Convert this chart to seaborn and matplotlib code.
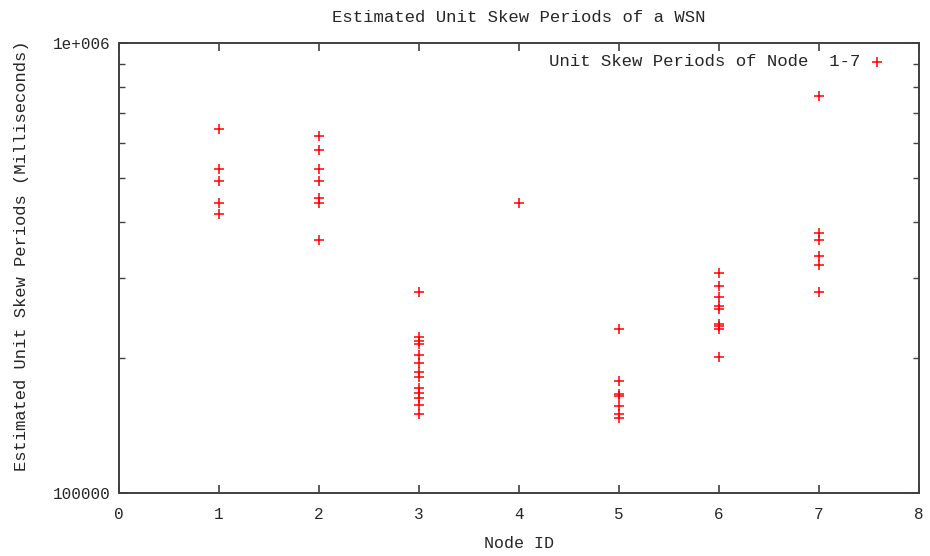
import matplotlib
matplotlib.use('Agg')
import matplotlib.pyplot as plt
import matplotlib.ticker as mticker
import seaborn as sns
import pandas as pd

# estimated unit skew periods (ms) per node
node1 = [644000, 525000, 494000, 440000, 417000]
node2 = [621000, 578000, 525000, 494000, 452000, 442000, 365000]
node3 = [279000, 222500, 218000, 214000, 203000, 194000, 186000, 181000,
         171000, 167000, 163000, 157000, 150000]
node4 = [441000]
node5 = [231000, 177000, 166000, 164000, 156000, 150000, 147000]
node6 = [309000, 288000, 273000, 261000, 257000, 238000, 235000, 232000, 201000]
node7 = [762000, 379000, 365000, 337000, 321000, 280000]

nodes = [node1, node2, node3, node4, node5, node6, node7]
node_ids = [1, 2, 3, 4, 5, 6, 7]

rows = []
for nid, vals in zip(node_ids, nodes):
    for v in vals:
        rows.append({'node': nid, 'period': v})
df = pd.DataFrame(rows)

sns.set_style('ticks')
plt.rcParams['font.family'] = ['Liberation Mono', 'DejaVu Sans Mono']

fig = plt.figure(figsize=(9.3, 5.56), dpi=100)
ax = fig.add_axes([119 / 930, 63 / 556, 800 / 930, 450 / 556])

sns.scatterplot(data=df, x='node', y='period', marker='+', color='red',
                s=60, linewidth=1.1, ax=ax,
                label='Unit Skew Periods of Node  1-7')

ax.set_yscale('log')
ax.set_ylim(1e5, 1e6)
ax.set_xlim(0, 8)
ax.set_xticks(range(0, 9))
ax.set_yticks([1e5, 1e6])
ax.set_yticklabels(['100000', '1e+006'])
ax.yaxis.set_minor_locator(mticker.LogLocator(base=10, subs=range(2, 10)))
ax.yaxis.set_minor_formatter(mticker.NullFormatter())

for s in ax.spines.values():
    s.set_color('#404040')
    s.set_linewidth(1.4)
ax.tick_params(axis='both', which='major', direction='in', length=6, width=1.2,
               color='#404040', top=True, right=True, labelsize=11.5)
ax.tick_params(axis='y', which='minor', direction='in', length=4, width=1,
               color='#404040', right=True)
ax.tick_params(axis='x', pad=10)
ax.tick_params(axis='y', pad=6)

ax.set_title('Estimated Unit Skew Periods of a WSN', fontsize=12.4, pad=15)
ax.set_xlabel('Node ID', fontsize=12, labelpad=10)
ax.set_ylabel('Estimated Unit Skew Periods (Milliseconds)', fontsize=12.3)
ax.yaxis.set_label_coords(-0.113, 0.527)

leg = ax.legend(loc='upper right', bbox_to_anchor=(0.9675, 0.991),
                frameon=False, markerfirst=False, fontsize=12.5,
                handlelength=1.0, handletextpad=0.5, borderaxespad=0)

plt.savefig('out.png', dpi=100)
